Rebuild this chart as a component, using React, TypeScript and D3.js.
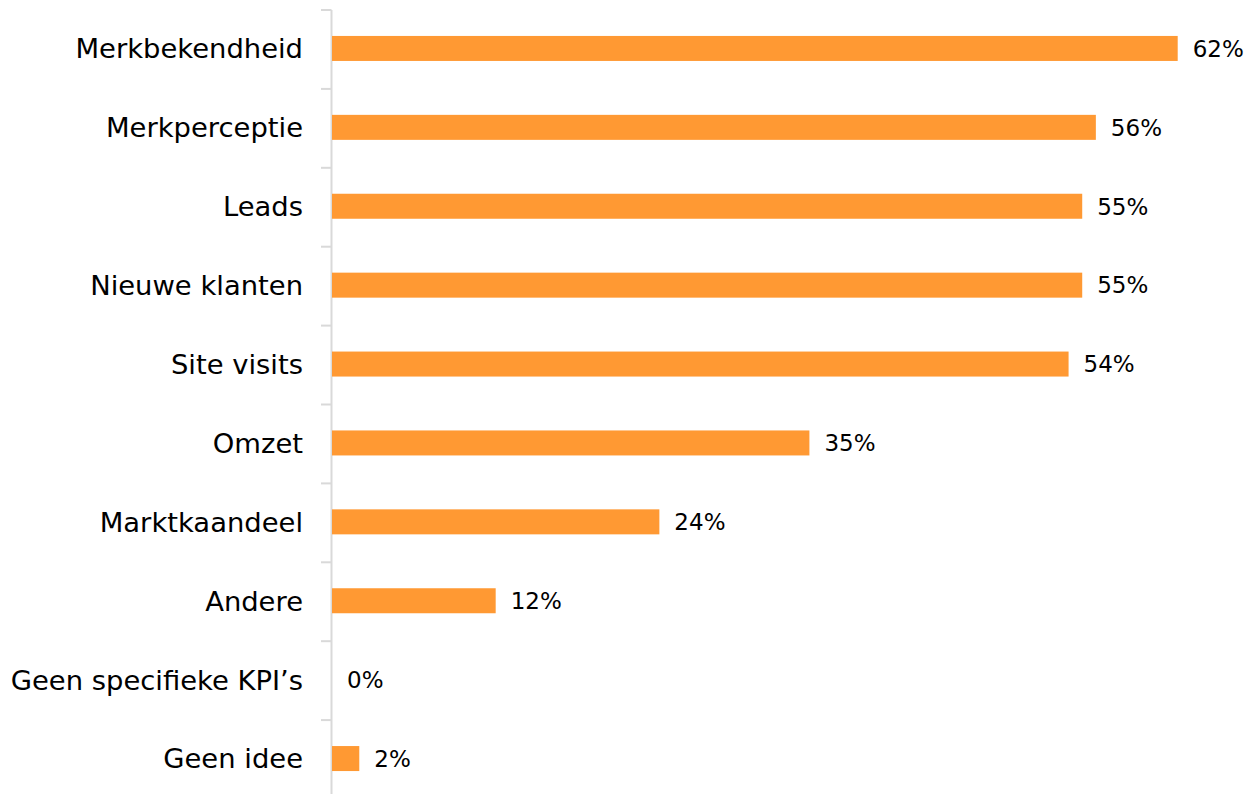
import React from "react";
import * as d3 from "d3";

const categories = [
  "Merkbekendheid",
  "Merkperceptie",
  "Leads",
  "Nieuwe klanten",
  "Site visits",
  "Omzet",
  "Marktkaandeel",
  "Andere",
  "Geen specifieke KPI’s",
  "Geen idee",
];
const values = [62, 56, 55, 55, 54, 35, 24, 12, 0, 2];

export default function App() {
  const W = 1251;
  const H = 794;
  const x0 = 332;
  const x = d3.scaleLinear().domain([0, 62]).range([x0, 1177.7]);
  const y = d3.scaleBand().domain(categories).range([10, 799]).paddingInner(0).paddingOuter(0);
  const bh = 25;
  const font = "'DejaVu Sans', sans-serif";
  return (
    <svg width={W} height={H} style={{ position: "absolute", left: 0, top: 0, background: "#fff" }}>
      <line x1={331.5} x2={331.5} y1={10} y2={H} stroke="#d9d9d9" strokeWidth={2} />
      {categories.map((c, i) => (
        <line key={"t" + i} x1={321} x2={331.5} y1={(y(c) as number)} y2={(y(c) as number)} stroke="#d9d9d9" strokeWidth={2} />
      ))}
      {categories.map((c, i) => {
        const cy = (y(c) as number) + y.bandwidth() / 2 - 1;
        const v = values[i];
        return (
          <g key={c}>
            {v > 0 && (
              <rect x={x(0)} y={cy - bh / 2} width={x(v) - x(0)} height={bh} fill="#FF9933" />
            )}
            <text x={303} y={cy} dy="0.36em" textAnchor="end" fontFamily={font} fontSize={27.4} fill="#000">
              {c}
            </text>
            <text x={x(v) + 15} y={cy} dy="0.36em" textAnchor="start" fontFamily={font} fontSize={23} fill="#000">
              {v}%
            </text>
          </g>
        );
      })}
    </svg>
  );
}
